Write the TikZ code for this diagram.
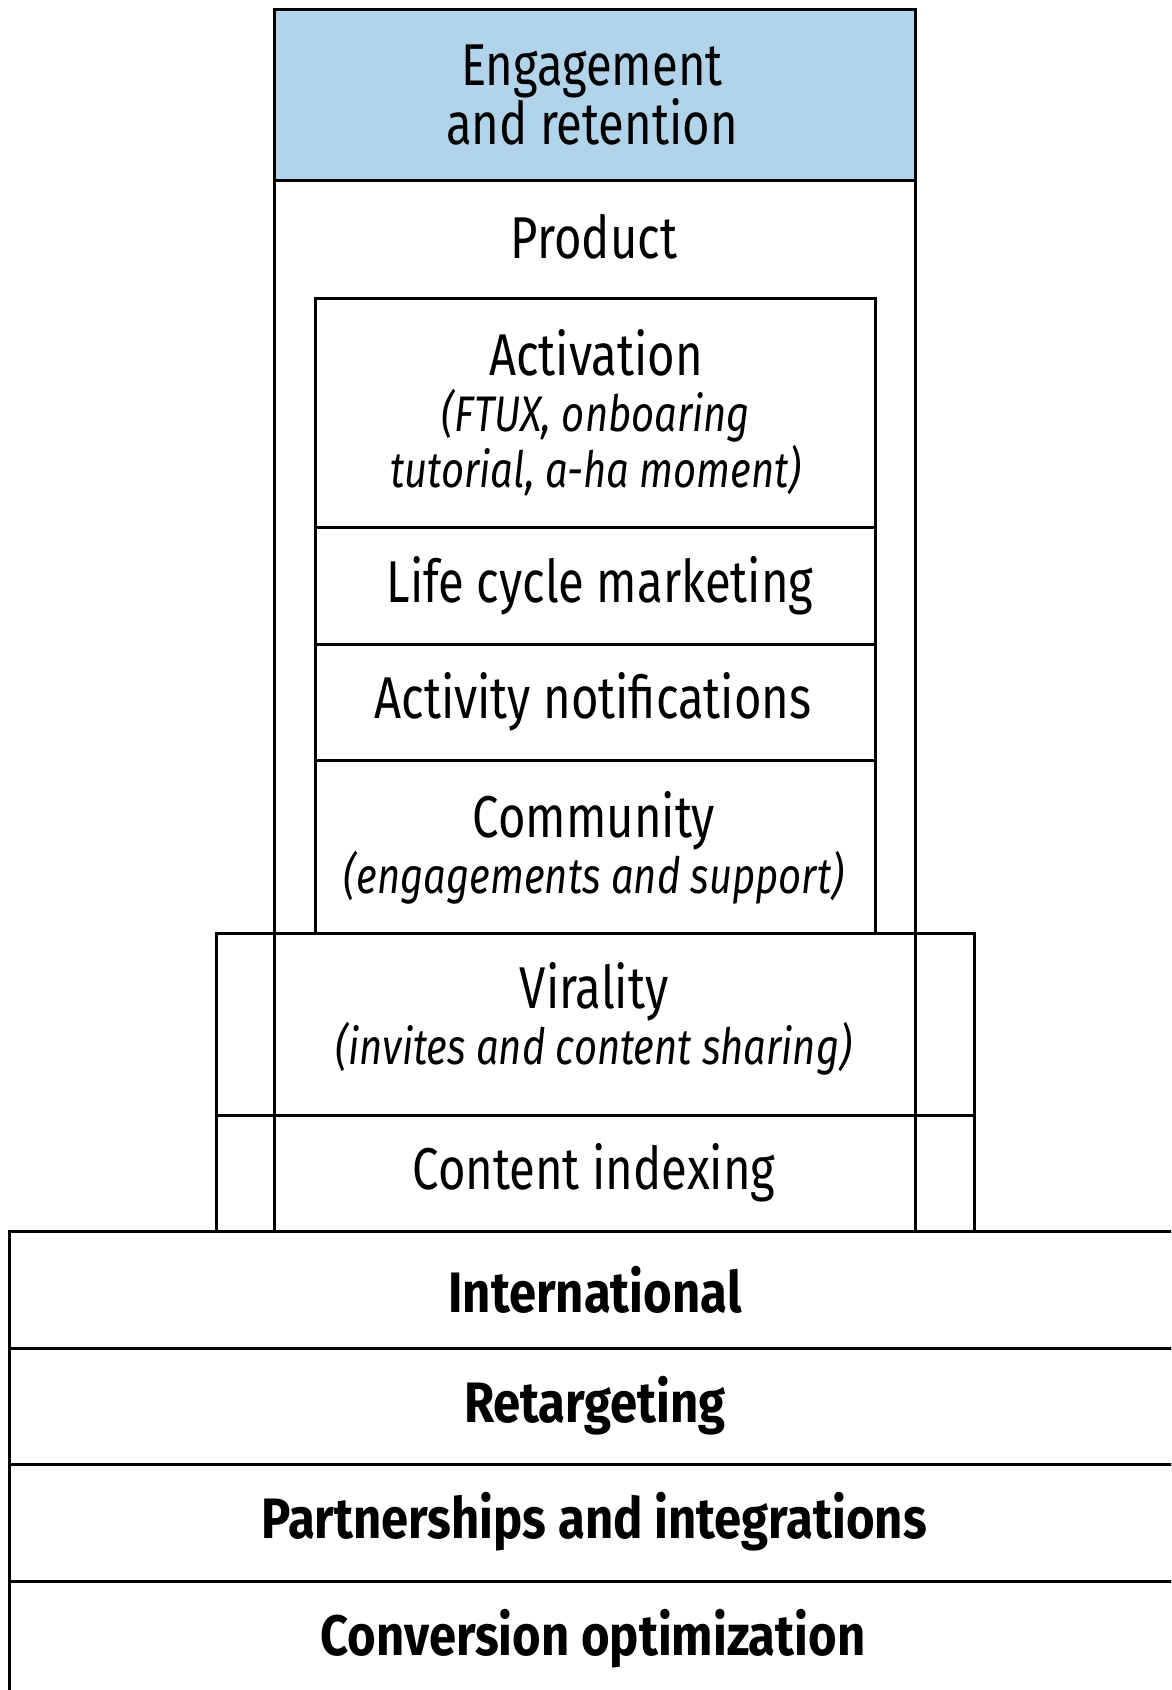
\documentclass[tikz,border=0pt]{standalone}
\usepackage{fontspec}
\setmainfont{Fira Sans}[FakeStretch=0.8]
\newfontfamily\boldfam{Fira Sans}[FakeStretch=0.86]
\definecolor{engblue}{RGB}{178,212,234}
\newcommand{\regfont}{\fontsize{59}{56}\selectfont}
\newcommand{\itfont}{\itshape\fontsize{50}{56}\selectfont}
\newcommand{\bfnt}{\boldfam\bfseries\fontsize{57}{56}\selectfont}
\begin{document}
\begin{tikzpicture}[x=1pt,y=-1pt,
  box/.style={draw=black,line width=3pt,rectangle,inner sep=0pt,outer sep=0pt},
  lbl/.style={inner sep=0pt,align=center,font=\regfont,text=black},
  blbl/.style={inner sep=0pt,align=center,font=\bfnt,text=black}]
\useasboundingbox (0,0) rectangle (1171,1690);
\clip (0,0) rectangle (1171,1690);
\fill[white] (0,0) rectangle (1171,1690);
% wide box (virality + content indexing)
\node[box,minimum width=758,minimum height=298] (wide) at (595,1082) {};
\node[box,minimum width=758,minimum height=116] (cidx) at (595,1173) {};
% product column
\node[box,minimum width=641,minimum height=1051] (prod) at (594.5,705.5) {};
% engagement box
\node[box,fill=engblue,minimum width=641,minimum height=171] (eng) at (594.5,94.5) {};
% inner stack
\node[box,minimum width=560,minimum height=229] (act) at (595,412.5) {};
\node[box,minimum width=560,minimum height=117] (life) at (595,585.5) {};
\node[box,minimum width=560,minimum height=116] (actn) at (595,702) {};
\node[box,minimum width=560,minimum height=173] (comm) at (595,846.5) {};
% bottom layers
\node[box,minimum width=1200,minimum height=117] (intl) at (609,1289.5) {};
\node[box,minimum width=1200,minimum height=116] (retg) at (609,1406) {};
\node[box,minimum width=1200,minimum height=117] (part) at (609,1522.5) {};
\node[box,minimum width=1200,minimum height=116] (conv) at (609,1639) {};
% texts
\node[lbl] (tEng) at (592,95) {Engagement\\and retention};
\node[lbl] (tProd) at (594,237) {Product};
\node[lbl] (tAct) at (596,413) {Activation\\{\itfont (FTUX, onboaring}\\{\itfont tutorial, a-ha moment)}};
\node[lbl] (tLife) at (600,585.5) {Life cycle marketing};
\node[lbl] (tActn) at (593,702) {Activity notifications};
\node[lbl] (tComm) at (594,848) {Community\\{\itfont (engagements and support)}};
\node[lbl] (tVir) at (594,1019) {Virality\\{\itfont (invites and content sharing)}};
\node[lbl] (tCidx) at (594,1173) {Content indexing};
\node[blbl] (tIntl) at (595,1290) {International};
\node[blbl] (tRetg) at (595,1406) {Retargeting};
\node[blbl] (tPart) at (594,1522) {Partnerships and integrations};
\node[blbl] (tConv) at (593,1639) {Conversion optimization};
\end{tikzpicture}
\end{document}
